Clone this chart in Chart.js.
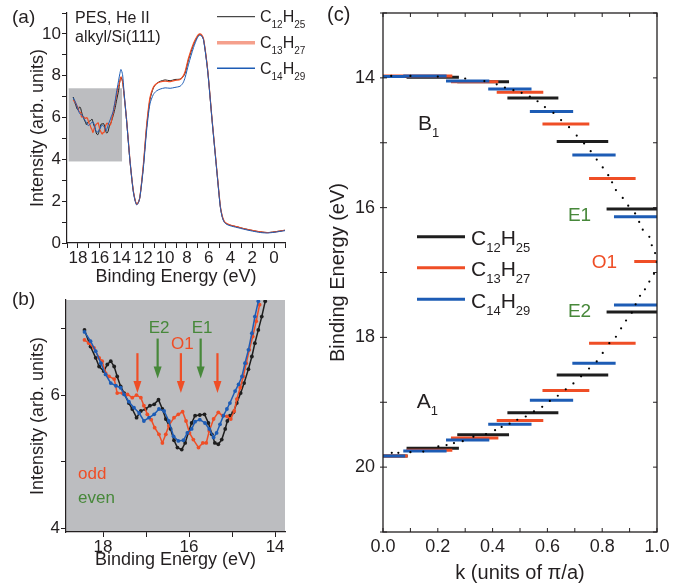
<!DOCTYPE html>
<html>
<head>
<meta charset="utf-8">
<title>alkyl/Si(111) PES</title>
<script src="https://cdn.jsdelivr.net/npm/chart.js@4.4.1/dist/chart.umd.min.js"></script>
<style>
  body { margin: 0; background: #fff; }
  #wrap { position: relative; width: 685px; height: 585px; overflow: hidden; }
  canvas { position: absolute; }
</style>
</head>
<body>
<div id="wrap">
  <canvas id="chartC" width="385" height="585" style="left:300px;top:0;width:385px;height:585px"></canvas>
  <canvas id="chartA" width="335" height="290" style="left:0;top:0;width:335px;height:290px"></canvas>
  <canvas id="chartB" width="300" height="295" style="left:0;top:290px;width:300px;height:295px"></canvas>
</div>
<script>
// ---------- data ----------
const seriesLabels = ['C12H25', 'C13H27', 'C14H29'];

// (b) zoomed valence band region, binding energy (eV) / intensity
const bC12E = [18.43, 18.29, 18.17, 18.09, 17.98, 17.90, 17.82, 17.74, 17.67, 17.59, 17.51, 17.40, 17.32, 17.22, 17.12, 17.01, 16.91, 16.81, 16.71, 16.62, 16.54, 16.43, 16.35, 16.27, 16.17, 16.09, 16.02, 15.94, 15.86, 15.75, 15.64, 15.55, 15.47, 15.40, 15.32, 15.24, 15.16, 15.11, 15.05, 14.97, 14.89, 14.80, 14.72, 14.62, 14.54, 14.47, 14.39, 14.31, 14.23];
const bC12I = [6.98, 6.73, 6.56, 6.43, 6.36, 6.46, 6.51, 6.43, 6.28, 6.13, 6.03, 5.88, 5.79, 5.66, 5.76, 5.79, 5.84, 5.86, 5.93, 5.79, 5.64, 5.49, 5.32, 5.21, 5.18, 5.28, 5.43, 5.58, 5.69, 5.70, 5.71, 5.58, 5.41, 5.28, 5.26, 5.33, 5.49, 5.61, 5.69, 5.74, 5.88, 6.03, 6.18, 6.39, 6.58, 6.78, 6.98, 7.18, 7.41];
const bC13E = [18.43, 18.33, 18.21, 18.09, 18.02, 17.94, 17.86, 17.74, 17.67, 17.55, 17.43, 17.32, 17.22, 17.12, 17.05, 16.97, 16.88, 16.80, 16.70, 16.62, 16.54, 16.47, 16.35, 16.25, 16.15, 16.07, 15.99, 15.90, 15.78, 15.68, 15.60, 15.53, 15.43, 15.32, 15.22, 15.12, 15.03, 14.95, 14.89, 14.81, 14.74, 14.67, 14.60, 14.52, 14.44, 14.36];
const bC13I = [6.83, 6.78, 6.71, 6.56, 6.51, 6.33, 6.28, 6.24, 6.03, 6.03, 6.01, 5.96, 6.00, 5.96, 5.84, 5.71, 5.63, 5.51, 5.41, 5.28, 5.41, 5.54, 5.66, 5.71, 5.75, 5.61, 5.43, 5.33, 5.21, 5.28, 5.28, 5.46, 5.64, 5.74, 5.69, 5.68, 5.64, 5.76, 5.94, 6.11, 6.28, 6.48, 6.68, 6.88, 7.11, 7.36];
const bC14E = [18.43, 18.29, 18.17, 18.05, 17.94, 17.82, 17.70, 17.59, 17.51, 17.40, 17.28, 17.16, 17.05, 16.93, 16.81, 16.70, 16.58, 16.47, 16.36, 16.25, 16.13, 16.04, 15.94, 15.86, 15.75, 15.63, 15.53, 15.43, 15.36, 15.28, 15.20, 15.12, 15.05, 14.93, 14.85, 14.77, 14.70, 14.62, 14.54, 14.47, 14.39];
const bC14I = [6.95, 6.81, 6.66, 6.48, 6.31, 6.18, 6.14, 6.11, 6.01, 5.90, 5.81, 5.73, 5.61, 5.66, 5.71, 5.79, 5.76, 5.61, 5.38, 5.31, 5.32, 5.43, 5.49, 5.60, 5.63, 5.58, 5.49, 5.36, 5.43, 5.56, 5.69, 5.79, 5.88, 6.06, 6.16, 6.28, 6.48, 6.68, 6.93, 7.18, 7.41];

// (a) full spectrum, the part below 14.2 eV (the rest is the (b) data above)
const aEnergy = [14.15, 14.05, 13.90, 13.78, 13.54, 13.23, 12.93, 12.75, 12.61, 12.45, 12.31, 12.00, 11.69, 11.39, 11.08, 10.80, 10.46, 10.00, 9.54, 9.10, 8.62, 8.35, 8.16, 7.85, 7.39, 7.05, 6.84, 6.65, 6.47, 6.10, 5.69, 5.23, 4.93, 4.75, 4.56, 4.30, 4.01, 3.40, 2.78, 2.00, 1.24, 0.60, 0.01, -0.50, -1.00];
const aC12 = [7.75, 7.92, 7.70, 7.17, 5.89, 3.97, 2.53, 2.05, 1.87, 1.95, 2.21, 3.65, 5.57, 6.85, 7.41, 7.62, 7.73, 7.80, 7.76, 7.82, 7.84, 7.95, 8.13, 8.77, 9.49, 9.85, 9.97, 9.93, 9.73, 8.29, 5.89, 3.33, 1.73, 1.25, 1.01, 0.90, 0.85, 0.77, 0.69, 0.60, 0.53, 0.50, 0.53, 0.57, 0.61];
const aC13 = [7.72, 7.95, 7.72, 7.20, 5.95, 4.00, 2.55, 2.05, 1.85, 1.95, 2.20, 3.70, 5.65, 6.95, 7.45, 7.62, 7.70, 7.74, 7.72, 7.78, 7.82, 7.98, 8.20, 8.85, 9.55, 9.90, 10.00, 9.95, 9.75, 8.30, 5.90, 3.35, 1.75, 1.28, 1.03, 0.92, 0.86, 0.78, 0.69, 0.60, 0.53, 0.50, 0.53, 0.57, 0.61];
const aC14 = [8.10, 8.30, 8.05, 7.30, 5.90, 3.97, 2.50, 2.00, 1.82, 1.92, 2.18, 3.55, 5.40, 6.65, 7.10, 7.27, 7.36, 7.42, 7.40, 7.44, 7.50, 7.66, 7.92, 8.55, 9.35, 9.80, 9.93, 9.90, 9.70, 8.25, 5.85, 3.30, 1.70, 1.22, 0.98, 0.88, 0.82, 0.74, 0.66, 0.57, 0.50, 0.48, 0.51, 0.55, 0.59];
const aZoomBox = [18.85, 13.95, 3.9, 7.4];   // eV from, eV to, intensity from, to

// arrows in (b): binding energies of odd / even features
const oddArrows = [17.20, 16.19, 15.34];
const evenArrows = [16.73, 15.73];

// (c) level scheme: k from, k to, binding energy
const c12Start = [0.000, 0.086, 0.271, 0.454, 0.634, 0.816, 0.000, 0.086, 0.271, 0.454, 0.634, 0.816];
const c12End   = [0.090, 0.277, 0.460, 0.640, 0.822, 1.000, 0.090, 0.277, 0.460, 0.640, 0.822, 1.000];
const c12Level = [13.98, 13.99, 14.06, 14.31, 14.98, 16.02, 19.83, 19.71, 19.50, 19.16, 18.58, 17.61];
const c13Start = [0.000, 0.086, 0.248, 0.415, 0.582, 0.752, 0.917, 0.000, 0.086, 0.248, 0.415, 0.582, 0.752];
const c13End   = [0.090, 0.253, 0.421, 0.585, 0.753, 0.922, 1.000, 0.090, 0.253, 0.421, 0.585, 0.753, 0.922];
const c13Level = [13.97, 13.97, 14.06, 14.22, 14.71, 15.55, 16.83, 19.83, 19.74, 19.55, 19.28, 18.82, 18.09];
const c14Start = [0.000, 0.074, 0.230, 0.384, 0.536, 0.691, 0.843, 0.000, 0.074, 0.230, 0.384, 0.536, 0.691, 0.843];
const c14End   = [0.081, 0.232, 0.388, 0.542, 0.694, 0.849, 1.000, 0.081, 0.232, 0.388, 0.542, 0.694, 0.849, 1.000];
const c14Level = [13.98, 13.97, 14.05, 14.17, 14.52, 15.19, 16.14, 19.83, 19.75, 19.58, 19.34, 18.97, 18.40, 17.50];
// dotted dispersion curve
const dotK = [0.03, 0.10, 0.20, 0.30, 0.37, 0.415, 0.445, 0.476, 0.506, 0.536, 0.564, 0.591, 0.622, 0.650, 0.679, 0.707, 0.734, 0.758, 0.780, 0.802, 0.822, 0.836, 0.850, 0.875, 0.895, 0.920, 0.935, 0.948, 0.972, 0.981, 0.993, 0.999,
              0.989, 0.972, 0.956, 0.938, 0.922, 0.908, 0.887, 0.869, 0.850, 0.826, 0.802, 0.780, 0.752, 0.723, 0.695, 0.667, 0.638, 0.609, 0.581, 0.551, 0.521, 0.490, 0.462, 0.433, 0.409, 0.376, 0.330, 0.291, 0.259, 0.232, 0.202, 0.147, 0.100, 0.056, 0.032];
const dotE = [13.97, 13.97, 13.98, 14.01, 14.05, 14.10, 14.15, 14.19, 14.23, 14.29, 14.36, 14.45, 14.54, 14.65, 14.76, 14.89, 15.01, 15.13, 15.26, 15.38, 15.50, 15.61, 15.73, 15.85, 15.97, 16.09, 16.22, 16.34, 16.45, 16.58, 16.70, 16.84,
              17.02, 17.14, 17.26, 17.36, 17.49, 17.62, 17.74, 17.86, 17.99, 18.09, 18.24, 18.37, 18.48, 18.60, 18.71, 18.80, 18.90, 18.98, 19.07, 19.14, 19.22, 19.27, 19.33, 19.38, 19.43, 19.49, 19.53, 19.60, 19.63, 19.66, 19.68, 19.76, 19.77, 19.78, 19.78];

// tick positions
const aXTicks = [19, 18, 17, 16, 15, 14, 13, 12, 11, 10, 9, 8, 7, 6, 5, 4, 3, 2, 1, 0, -1];
const aYTicks = [0, 1, 2, 3, 4, 5, 6, 7, 8, 9, 10, 11];
const bXTicks = [14, 15, 16, 17, 18];
const bYTicks = [4, 5, 6, 7];
const cXTicks = [0, 0.1, 0.2, 0.3, 0.4, 0.5, 0.6, 0.7, 0.8, 0.9, 1.0];
const cYTicks = [13, 14, 15, 16, 17, 18, 19, 20, 21];

// ---------- style ----------
const FONT = "'Liberation Sans', Arial, Helvetica, sans-serif";
const INK = '#231f20';
const BLACK = '#1e1e1e', RED = '#ef4e26', BLUE = '#1d5cb5', GREEN = '#47883a', GRAY = '#bcbdc0';
const colors = [BLACK, RED, BLUE];

Chart.defaults.font.family = FONT;
Chart.defaults.color = INK;

function pts(xs, ys) {
  return xs.map((x, i) => ({x: x, y: ys[i]}));
}

function segments(starts, ends, levels) {
  const out = [];
  starts.forEach((s, i) => {
    out.push({x: s, y: levels[i]}, {x: ends[i], y: levels[i]}, {x: ends[i], y: null});
  });
  return out;
}

// letters normal, digits subscript
function drawFormula(ctx, text, x, y, size, subSize, drop, color) {
  ctx.save();
  ctx.fillStyle = color;
  ctx.textAlign = 'left';
  ctx.textBaseline = 'alphabetic';
  let cx = x;
  text.match(/[A-Za-z]+|\d+/g).forEach(p => {
    const sub = /\d/.test(p);
    ctx.font = (sub ? subSize : size) + 'px ' + FONT;
    ctx.fillText(p, cx, y + (sub ? drop : 0));
    cx += ctx.measureText(p).width;
  });
  ctx.restore();
}

function drawText(ctx, text, x, y, size, color, align) {
  ctx.save();
  ctx.font = size + 'px ' + FONT;
  ctx.fillStyle = color;
  ctx.textAlign = align || 'left';
  ctx.textBaseline = 'alphabetic';
  ctx.fillText(text, x, y);
  ctx.restore();
}

function drawArrow(ctx, x, yTop, yTip, color) {
  ctx.save();
  ctx.strokeStyle = color;
  ctx.fillStyle = color;
  ctx.lineWidth = 2.2;
  ctx.beginPath();
  ctx.moveTo(x, yTop);
  ctx.lineTo(x, yTip - 10);
  ctx.stroke();
  ctx.beginPath();
  ctx.moveTo(x - 4, yTip - 12);
  ctx.lineTo(x + 4, yTip - 12);
  ctx.lineTo(x, yTip);
  ctx.closePath();
  ctx.fill();
  ctx.restore();
}

function fitX(h) {
  return s => { s.height = h; s.paddingLeft = 0; s.paddingRight = 0; };
}
function fitY(w) {
  return s => { s.width = w; s.paddingTop = 0; s.paddingBottom = 0; };
}
function setTicks(list) {
  return s => { s.ticks = list.map(v => ({value: v})); };
}
const evenOnly = v => (Math.round(v) % 2 === 0 ? v : '');

const baseOptions = {
  responsive: false,
  animation: false,
  events: [],
  plugins: {legend: {display: false}, tooltip: {enabled: false}}
};

// ---------- (a) ----------
const panelA = {
  id: 'panelA',
  beforeDraw(chart) {
    const {ctx, scales: {x, y}} = chart;
    const l = x.getPixelForValue(aZoomBox[0]), r = x.getPixelForValue(aZoomBox[1]);
    const t = y.getPixelForValue(aZoomBox[3]), b = y.getPixelForValue(aZoomBox[2]);
    ctx.save();
    ctx.fillStyle = GRAY;
    ctx.fillRect(l, t, r - l, b - t);
    ctx.restore();
  },
  afterDraw(chart) {
    const ctx = chart.ctx;
    drawText(ctx, '(a)', 12, 23, 19, INK);
    drawText(ctx, 'PES, He II', 75, 23, 16, INK);
    drawText(ctx, 'alkyl/Si(111)', 75, 42, 16, INK);
    const rows = [16.7, 42.7, 68.3];
    const legendColors = [BLACK, '#f5a08c', BLUE];
    const widths = [1, 3.5, 1.6];
    rows.forEach((ry, i) => {
      ctx.save();
      ctx.strokeStyle = legendColors[i];
      ctx.lineWidth = widths[i];
      ctx.beginPath();
      ctx.moveTo(217, ry);
      ctx.lineTo(255, ry);
      ctx.stroke();
      ctx.restore();
      drawFormula(ctx, seriesLabels[i], 260, ry + 5.7, 16, 10, 5.5, INK);
    });
  }
};

new Chart(document.getElementById('chartA'), {
  type: 'line',
  data: {
    datasets: [
      {data: pts(bC12E.concat(aEnergy), bC12I.concat(aC12)), borderColor: BLACK, borderWidth: 1, order: 3},
      {data: pts(bC13E.concat(aEnergy), bC13I.concat(aC13)), borderColor: RED, borderWidth: 1.2, order: 2},
      {data: pts(bC14E.concat(aEnergy), bC14I.concat(aC14)), borderColor: BLUE, borderWidth: 1, order: 1}
    ]
  },
  options: Object.assign({}, baseOptions, {
    layout: {padding: {left: 0, top: 13, right: 50, bottom: 0}},
    elements: {point: {radius: 0}, line: {tension: 0.25}},
    scales: {
      x: {
        type: 'linear', reverse: true, min: -1, max: 19,
        afterBuildTicks: setTicks(aXTicks),
        afterFit: fitX(47),
        ticks: {callback: evenOnly, font: {size: 17}, padding: 0, maxRotation: 0, autoSkip: false},
        grid: {drawOnChartArea: false, tickLength: 5, tickColor: INK},
        border: {color: INK, width: 1.2},
        title: {display: true, text: 'Binding Energy (eV)', font: {size: 18}, padding: {top: 0, bottom: 2}}
      },
      y: {
        type: 'linear', min: 0, max: 11,
        afterBuildTicks: setTicks(aYTicks),
        afterFit: fitY(67),
        ticks: {callback: evenOnly, font: {size: 17}, padding: 1, autoSkip: false},
        grid: {drawOnChartArea: false, tickLength: 5, tickColor: INK},
        border: {color: INK, width: 1.2},
        title: {display: true, text: 'Intensity (arb. units)', font: {size: 18}, padding: {top: 27, bottom: 0}}
      }
    }
  }),
  plugins: [panelA]
});

// ---------- (b) ----------
const panelB = {
  id: 'panelB',
  beforeDraw(chart) {
    const {ctx, chartArea: a} = chart;
    ctx.save();
    ctx.fillStyle = GRAY;
    ctx.fillRect(a.left, a.top, a.right - a.left, a.bottom - a.top);
    ctx.restore();
  },
  afterDatasetsDraw(chart) {
    const {ctx, scales: {x, y}} = chart;
    oddArrows.forEach(e => drawArrow(ctx, x.getPixelForValue(e), y.getPixelForValue(6.63), y.getPixelForValue(6.03), RED));
    evenArrows.forEach(e => drawArrow(ctx, x.getPixelForValue(e), y.getPixelForValue(6.85), y.getPixelForValue(6.25), GREEN));
    drawText(ctx, 'E2', x.getPixelForValue(evenArrows[0]) + 1.5, y.getPixelForValue(6.94), 17, GREEN, 'center');
    drawText(ctx, 'E1', x.getPixelForValue(evenArrows[1]) + 1.5, y.getPixelForValue(6.94), 17, GREEN, 'center');
    drawText(ctx, 'O1', x.getPixelForValue(oddArrows[1]) + 1.5, y.getPixelForValue(6.70), 17, RED, 'center');
    drawText(ctx, 'odd', x.getPixelForValue(18.58), y.getPixelForValue(4.73), 17, RED);
    drawText(ctx, 'even', x.getPixelForValue(18.58), y.getPixelForValue(4.38), 17, GREEN);
  },
  afterDraw(chart) {
    drawText(chart.ctx, '(b)', 12, 15, 19, INK);
  }
};

function bSet(e, i, color, order) {
  return {data: pts(e, i), borderColor: color, backgroundColor: color, borderWidth: 1.5,
          pointRadius: 1.9, pointBorderWidth: 0, pointBackgroundColor: color, order: order};
}

new Chart(document.getElementById('chartB'), {
  type: 'line',
  data: {
    datasets: [
      bSet(bC12E, bC12I, BLACK, 3),
      bSet(bC13E, bC13I, RED, 2),
      bSet(bC14E, bC14I, BLUE, 1)
    ]
  },
  options: Object.assign({}, baseOptions, {
    layout: {padding: {left: 0, top: 10, right: 15, bottom: 0}},
    elements: {line: {tension: 0}},
    scales: {
      x: {
        type: 'linear', reverse: true, min: 13.77, max: 18.86,
        afterBuildTicks: setTicks(bXTicks),
        afterFit: fitX(53),
        ticks: {callback: evenOnly, font: {size: 17}, padding: 0, maxRotation: 0, autoSkip: false},
        grid: {drawOnChartArea: false, tickLength: 5, tickColor: INK},
        border: {color: INK, width: 1.2},
        title: {display: true, text: 'Binding Energy (eV)', font: {size: 18}, padding: {top: 0, bottom: 14}}
      },
      y: {
        type: 'linear', min: 3.94, max: 7.43,
        afterBuildTicks: setTicks(bYTicks),
        afterFit: fitY(66),
        ticks: {callback: evenOnly, font: {size: 17}, padding: 1, autoSkip: false},
        grid: {drawOnChartArea: false, tickLength: 5, tickColor: INK},
        border: {color: INK, width: 1.2},
        title: {display: true, text: 'Intensity (arb. units)', font: {size: 18}, padding: {top: 27, bottom: 0}}
      }
    }
  }),
  plugins: [panelB]
});

// ---------- (c) ----------
const panelC = {
  id: 'panelC',
  afterDraw(chart) {
    const {ctx, chartArea: a, scales: {x, y}} = chart;
    ctx.save();
    ctx.strokeStyle = INK;
    ctx.lineWidth = 1.3;
    ctx.strokeRect(a.left, a.top, a.right - a.left, a.bottom - a.top);
    ctx.lineWidth = 1;
    ctx.beginPath();
    x.ticks.forEach(t => {
      const px = x.getPixelForValue(t.value);
      ctx.moveTo(px, a.bottom); ctx.lineTo(px, a.bottom - 4);
      ctx.moveTo(px, a.top); ctx.lineTo(px, a.top + 4);
    });
    y.ticks.forEach(t => {
      const py = y.getPixelForValue(t.value);
      ctx.moveTo(a.left - 3, py); ctx.lineTo(a.left + 4, py);
      ctx.moveTo(a.right, py); ctx.lineTo(a.right - 4, py);
    });
    ctx.stroke();
    ctx.restore();

    drawText(ctx, '(c)', 27, 21, 20, INK);
    // legend
    const rows = [236.7, 267.7, 299.3];
    rows.forEach((ry, i) => {
      ctx.save();
      ctx.strokeStyle = colors[i];
      ctx.lineWidth = 3;
      ctx.beginPath();
      ctx.moveTo(117, ry);
      ctx.lineTo(165, ry);
      ctx.stroke();
      ctx.restore();
      drawFormula(ctx, seriesLabels[i], 171, ry + 8.3, 21, 13, 7, INK);
    });
    // band labels
    drawFormula(ctx, 'B1', x.getPixelForValue(0.128), y.getPixelForValue(14.81), 21, 13, 7, INK);
    drawFormula(ctx, 'A1', x.getPixelForValue(0.123), y.getPixelForValue(19.09), 21, 13, 7, INK);
    drawText(ctx, 'E1', x.getPixelForValue(0.675), y.getPixelForValue(16.20), 19, GREEN);
    drawText(ctx, 'O1', x.getPixelForValue(0.762), y.getPixelForValue(16.93), 19, RED);
    drawText(ctx, 'E2', x.getPixelForValue(0.675), y.getPixelForValue(17.68), 19, GREEN);
  }
};

function cSet(starts, ends, levels, color, order) {
  return {data: segments(starts, ends, levels), borderColor: color, borderWidth: 3,
          pointRadius: 0, spanGaps: false, order: order};
}

new Chart(document.getElementById('chartC'), {
  type: 'line',
  data: {
    datasets: [
      cSet(c12Start, c12End, c12Level, BLACK, 4),
      cSet(c13Start, c13End, c13Level, RED, 3),
      cSet(c14Start, c14End, c14Level, BLUE, 2),
      {data: pts(dotK, dotE), showLine: false, pointRadius: 1.1, pointBorderWidth: 0,
       pointBackgroundColor: '#000', order: 1}
    ]
  },
  options: Object.assign({}, baseOptions, {
    layout: {padding: {left: 0, top: 13, right: 28, bottom: 0}},
    elements: {line: {tension: 0}},
    scales: {
      x: {
        type: 'linear', min: 0, max: 1,
        afterBuildTicks: setTicks(cXTicks),
        afterFit: fitX(53),
        ticks: {callback: (v, i) => (i % 2 === 0 ? v.toFixed(1) : ''), font: {size: 18}, padding: 4, maxRotation: 0, autoSkip: false},
        grid: {display: false, drawTicks: false},
        border: {display: false},
        title: {display: true, text: 'k (units of \u03c0/a)', font: {size: 20}, padding: {top: 0, bottom: 0}}
      },
      y: {
        type: 'linear', reverse: true, min: 13, max: 21,
        afterBuildTicks: setTicks(cYTicks),
        afterFit: fitY(83),
        ticks: {callback: evenOnly, font: {size: 18}, padding: 8, autoSkip: false},
        grid: {display: false, drawTicks: false},
        border: {display: false},
        title: {display: true, text: 'Binding Energy (eV)', font: {size: 20}, padding: {top: 26, bottom: 0}}
      }
    }
  }),
  plugins: [panelC]
});
</script>
</body>
</html>
